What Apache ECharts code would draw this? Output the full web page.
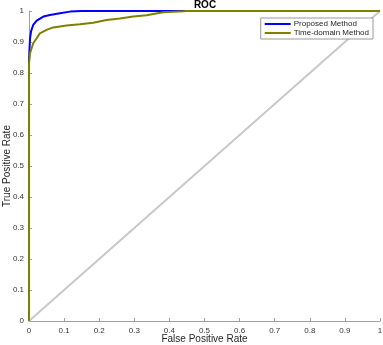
<!DOCTYPE html>
<html>
<head>
<meta charset="utf-8">
<script src="https://cdn.jsdelivr.net/npm/echarts@6/dist/echarts.min.js"></script>
<style>
  html, body { margin: 0; padding: 0; background: #fff; }
  #chart { width: 383px; height: 345px; }
</style>
</head>
<body>
<div id="chart"></div>
<script>
// ROC points: [false positive rate, true positive rate]
const proposedPoints = [
  [0, 0], [0, 0.845], [0.002, 0.89], [0.003, 0.912], [0.006, 0.935],
  [0.012, 0.955], [0.022, 0.969], [0.041, 0.982], [0.06, 0.987],
  [0.088, 0.993], [0.117, 0.998], [0.15, 1], [1, 1]
]
const timeDomainPoints = [
  [0, 0], [0, 0.83], [0.003, 0.864], [0.012, 0.896], [0.022, 0.912],
  [0.031, 0.928], [0.05, 0.939], [0.069, 0.947], [0.107, 0.953],
  [0.145, 0.957], [0.183, 0.962], [0.221, 0.971], [0.259, 0.976],
  [0.297, 0.982], [0.335, 0.986], [0.354, 0.99], [0.383, 0.996],
  [0.44, 0.999], [0.45, 1], [1, 1]
]
const chancePoints = [[0, 0], [1, 1]]
const seriesNames = ['Proposed Method', 'Time-domain Method']

const font = 'Liberation Sans, Arial, Helvetica, sans-serif'
const labelFmt = v => String(Math.round(v * 10) / 10)

const chart = echarts.init(document.getElementById('chart'))

const axisCommon = {
  type: 'value',
  min: 0,
  max: 1,
  interval: 0.1,
  nameLocation: 'middle',
  nameMoveOverlap: false,
  nameTextStyle: { fontFamily: font, fontSize: 10, color: '#262626' },
  axisLine: { show: true, lineStyle: { color: '#a0a0a0', width: 1 } },
  axisTick: { show: true, inside: true, length: 3, lineStyle: { color: '#a0a0a0' } },
  axisLabel: { fontFamily: font, fontSize: 8, color: '#333', formatter: labelFmt },
  splitLine: { show: false }
}

chart.setOption({
  animation: false,
  title: {
    text: 'ROC',
    left: 205,
    top: 0,
    padding: 0,
    textAlign: 'center',
    textStyle: { fontFamily: font, fontSize: 10, fontWeight: 'bold', color: '#000' }
  },
  legend: {
    data: seriesNames,
    orient: 'vertical',
    right: 10,
    top: 18,
    icon: 'rect',
    itemWidth: 26,
    itemHeight: 2,
    itemGap: 1,
    padding: [2, 4, 2, 4],
    borderColor: '#999',
    borderWidth: 1,
    backgroundColor: '#fff',
    textStyle: { fontFamily: font, fontSize: 8, lineHeight: 8, color: '#262626', padding: [0, 0, 0, -2] }
  },
  grid: {
    left: 29,
    right: 3,
    top: 11,
    bottom: 24,
    containLabel: false,
    outerBoundsMode: 'none'
  },
  xAxis: Object.assign({}, axisCommon, {
    name: 'False Positive Rate',
    nameGap: 13,
    axisLabel: Object.assign({}, axisCommon.axisLabel, { margin: 6 })
  }),
  yAxis: Object.assign({}, axisCommon, {
    name: 'True Positive Rate',
    nameGap: 17,
    axisLabel: Object.assign({}, axisCommon.axisLabel, { margin: 5 })
  }),
  series: [
    {
      name: 'chance',
      type: 'line',
      data: chancePoints,
      symbol: 'none',
      silent: true,
      lineStyle: { color: '#c8c8c8', width: 2 }
    },
    {
      name: seriesNames[0],
      type: 'line',
      data: proposedPoints,
      symbol: 'none',
      itemStyle: { color: '#0000ff' },
      lineStyle: { color: '#0000ff', width: 2 }
    },
    {
      name: seriesNames[1],
      type: 'line',
      data: timeDomainPoints,
      symbol: 'none',
      itemStyle: { color: '#808000' },
      lineStyle: { color: '#808000', width: 2 }
    }
  ]
})
</script>
</body>
</html>
